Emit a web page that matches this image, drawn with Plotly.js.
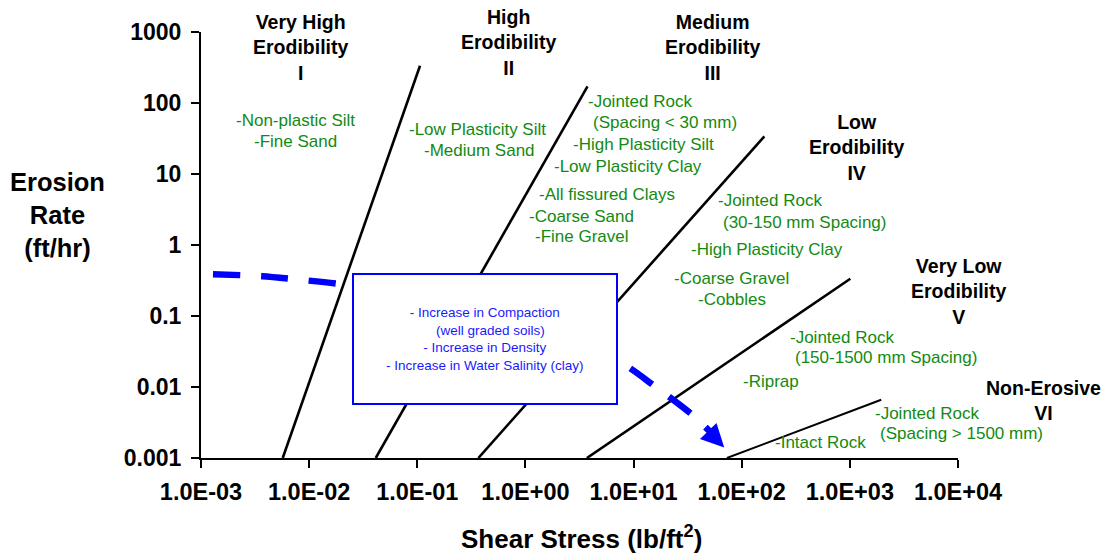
<!DOCTYPE html>
<html>
<head>
<meta charset="utf-8">
<script src="https://cdn.plot.ly/plotly-3.0.1.min.js"></script>
<style>
  html, body { margin: 0; padding: 0; background: #ffffff; }
  #chart { width: 1107px; height: 554px; }
</style>
</head>
<body>
<div id="chart"></div>
<script>
// ---------------- DATA ----------------
// Erodibility category boundary lines (shear stress lb/ft^2, erosion rate ft/hr)
const boundaryNames = ['I / II', 'II / III', 'III / IV', 'IV / V', 'V / VI'];
const boundaryStartX = [0.0057, 0.0413, 0.367, 3.70, 73];
const boundaryStartY = [0.001, 0.001, 0.001, 0.001, 0.001];
const boundaryEndX   = [0.106, 3.75, 162, 1010, 1950];
const boundaryEndY   = [335, 171, 33.9, 0.335, 0.0066];

// Blue dashed trend arrow (increase in compaction / density / salinity)
const trendX = [0.00129, 0.00367, 0.00824, 0.0215, 0.307, 7.36, 15.5, 34.8, 51.2];
const trendY = [0.388, 0.364, 0.324, 0.276, 0.144, 0.0227, 0.0104, 0.00407, 0.00234];
const trendTipX = [68.9];
const trendTipY = [0.0014];

// Axis ticks
const xTickVals = [1e-3, 1e-2, 1e-1, 1e0, 1e1, 1e2, 1e3, 1e4];
const xTickText = ['1.0E-03', '1.0E-02', '1.0E-01', '1.0E+00', '1.0E+01', '1.0E+02', '1.0E+03', '1.0E+04'];
const yTickVals = [0.001, 0.01, 0.1, 1, 10, 100, 1000];
const yTickText = ['0.001', '0.01', '0.1', '1', '10', '100', '1000'];

// Category titles
const categoryTitles = [
  'Very High<br>Erodibility<br>I',
  'High<br>Erodibility<br>II',
  'Medium<br>Erodibility<br>III',
  'Low<br>Erodibility<br>IV',
  'Very Low<br>Erodibility<br>V',
  'Non-Erosive<br>VI'
];

// Material lines (green)
const materialLines = [
  '-Non-plastic Silt', '-Fine Sand',
  '-Low Plasticity Silt', '-Medium Sand',
  '-Jointed Rock', '(Spacing < 30 mm)', '-High Plasticity Silt', '-Low Plasticity Clay',
  '-All fissured Clays', '-Coarse Sand', '-Fine Gravel',
  '-Jointed Rock', '(30-150 mm Spacing)', '-High Plasticity Clay', '-Coarse Gravel', '-Cobbles',
  '-Jointed Rock', '(150-1500 mm Spacing)', '-Riprap',
  '-Jointed Rock', '(Spacing > 1500 mm)', '-Intact Rock'
];

const boxText = '- Increase in Compaction<br>&nbsp;&nbsp;&nbsp;(well graded soils)<br>- Increase in Density<br>- Increase in Water Salinity (clay)';

// ---------------- LAYOUT HELPERS (pixel placement of text) ----------------
const L = 201, T = 32, W = 757, H = 426;
const px = x => (x - L) / W;
const py = y => (T + H - y) / H;

const categoryPos = [[300, 48], [508, 42], [712, 48], [856, 147], [958, 292], [1043, 400]];
const materialPos = [
  [235, 120], [253, 141],
  [408, 129], [423, 150],
  [587, 101], [592, 123], [572, 144], [553, 166],
  [538, 194], [528, 216], [534, 237],
  [717, 200], [722, 222], [690, 249], [673, 278], [697, 299],
  [789, 337], [794, 357], [742, 381],
  [874, 413], [879, 433], [774, 442]
];

const FONT = 'Arial, "Liberation Sans", Helvetica, sans-serif';
const GREEN = '#128a12';

// ---------------- TRACES ----------------
const traces = [];
for (let i = 0; i < boundaryNames.length; i++) {
  traces.push({
    type: 'scatter', mode: 'lines', name: boundaryNames[i],
    x: [boundaryStartX[i], boundaryEndX[i]],
    y: [boundaryStartY[i], boundaryEndY[i]],
    line: { color: '#000000', width: i === 4 ? 2 : 2.6 },
    hoverinfo: 'skip', showlegend: false
  });
}
traces.push({
  type: 'scatter', mode: 'lines', name: 'trend',
  x: trendX, y: trendY,
  line: { color: '#0000ff', width: 6.5, dash: '27px,21px', shape: 'spline', smoothing: 0.8 },
  hoverinfo: 'skip', showlegend: false
});
traces.push({
  type: 'scatter', mode: 'markers', name: 'trend tip',
  x: trendTipX, y: trendTipY,
  marker: { symbol: 'arrow-up', size: 23, angle: 136, color: '#0000ff', line: { width: 0 } },
  hoverinfo: 'skip', showlegend: false
});

// ---------------- ANNOTATIONS ----------------
const annotations = [];
categoryTitles.forEach((t, i) => {
  annotations.push({
    xref: 'paper', yref: 'paper', x: px(categoryPos[i][0]), y: py(categoryPos[i][1]),
    xanchor: 'center', yanchor: 'middle', showarrow: false, align: 'center',
    text: '<b>' + t + '</b>',
    font: { family: FONT, size: 19.5, color: '#000000' }
  });
});
materialLines.forEach((t, i) => {
  annotations.push({
    xref: 'paper', yref: 'paper', x: px(materialPos[i][0]), y: py(materialPos[i][1]),
    xanchor: 'left', yanchor: 'middle', showarrow: false, align: 'left',
    text: t.replace(/</g, '&lt;').replace(/>/g, '&gt;'),
    font: { family: FONT, size: 17, color: GREEN }, borderpad: 0
  });
});
annotations.push({
  xref: 'paper', yref: 'paper', x: px(485), y: py(339),
  xanchor: 'center', yanchor: 'middle', showarrow: false, align: 'center',
  text: boxText, font: { family: FONT, size: 13.5, color: '#1a1aff' }
});
annotations.push({
  xref: 'paper', yref: 'paper', x: px(57), y: py(215),
  xanchor: 'center', yanchor: 'middle', showarrow: false, align: 'center',
  text: '<b>Erosion<br>Rate<br>(ft/hr)</b>',
  font: { family: FONT, size: 25.5, color: '#000000' }
});
annotations.push({
  xref: 'paper', yref: 'paper', x: px(581), y: py(537),
  xanchor: 'center', yanchor: 'middle', showarrow: false, align: 'center',
  text: '<b>Shear Stress (lb/ft<sup>2</sup>)</b>',
  font: { family: FONT, size: 26, color: '#000000' }
});

const layout = {
  width: 1107, height: 554,
  margin: { l: L, r: 1107 - L - W, t: T, b: 554 - T - H, pad: 0 },
  paper_bgcolor: '#ffffff', plot_bgcolor: '#ffffff',
  showlegend: false,
  font: { family: FONT, color: '#000000' },
  xaxis: {
    type: 'log', range: [-3, 4], tickvals: xTickVals, ticktext: xTickText,
    showgrid: false, zeroline: false, showline: true, linecolor: '#000000', linewidth: 2,
    ticks: 'outside', ticklen: 8, tickwidth: 2, tickcolor: '#000000',
    ticklabelstandoff: 4,
    tickfont: { family: FONT, size: 23.5, color: '#000000', weight: 'bold' },
    fixedrange: true
  },
  yaxis: {
    type: 'log', range: [-3, 3], tickvals: yTickVals, ticktext: yTickText,
    showgrid: false, zeroline: false, showline: true, linecolor: '#000000', linewidth: 2,
    ticks: 'outside', ticklen: 8, tickwidth: 2, tickcolor: '#000000',
    ticklabelstandoff: 5,
    tickfont: { family: FONT, size: 23, color: '#000000', weight: 'bold' },
    fixedrange: true
  },
  shapes: [{
    type: 'rect', xref: 'paper', yref: 'paper', layer: 'above',
    x0: px(353), x1: px(617), y0: py(404), y1: py(274),
    line: { color: '#0000ff', width: 2 }, fillcolor: '#ffffff'
  }],
  annotations: annotations
};

Plotly.newPlot('chart', traces, layout, { displayModeBar: false, staticPlot: true });
</script>
</body>
</html>
